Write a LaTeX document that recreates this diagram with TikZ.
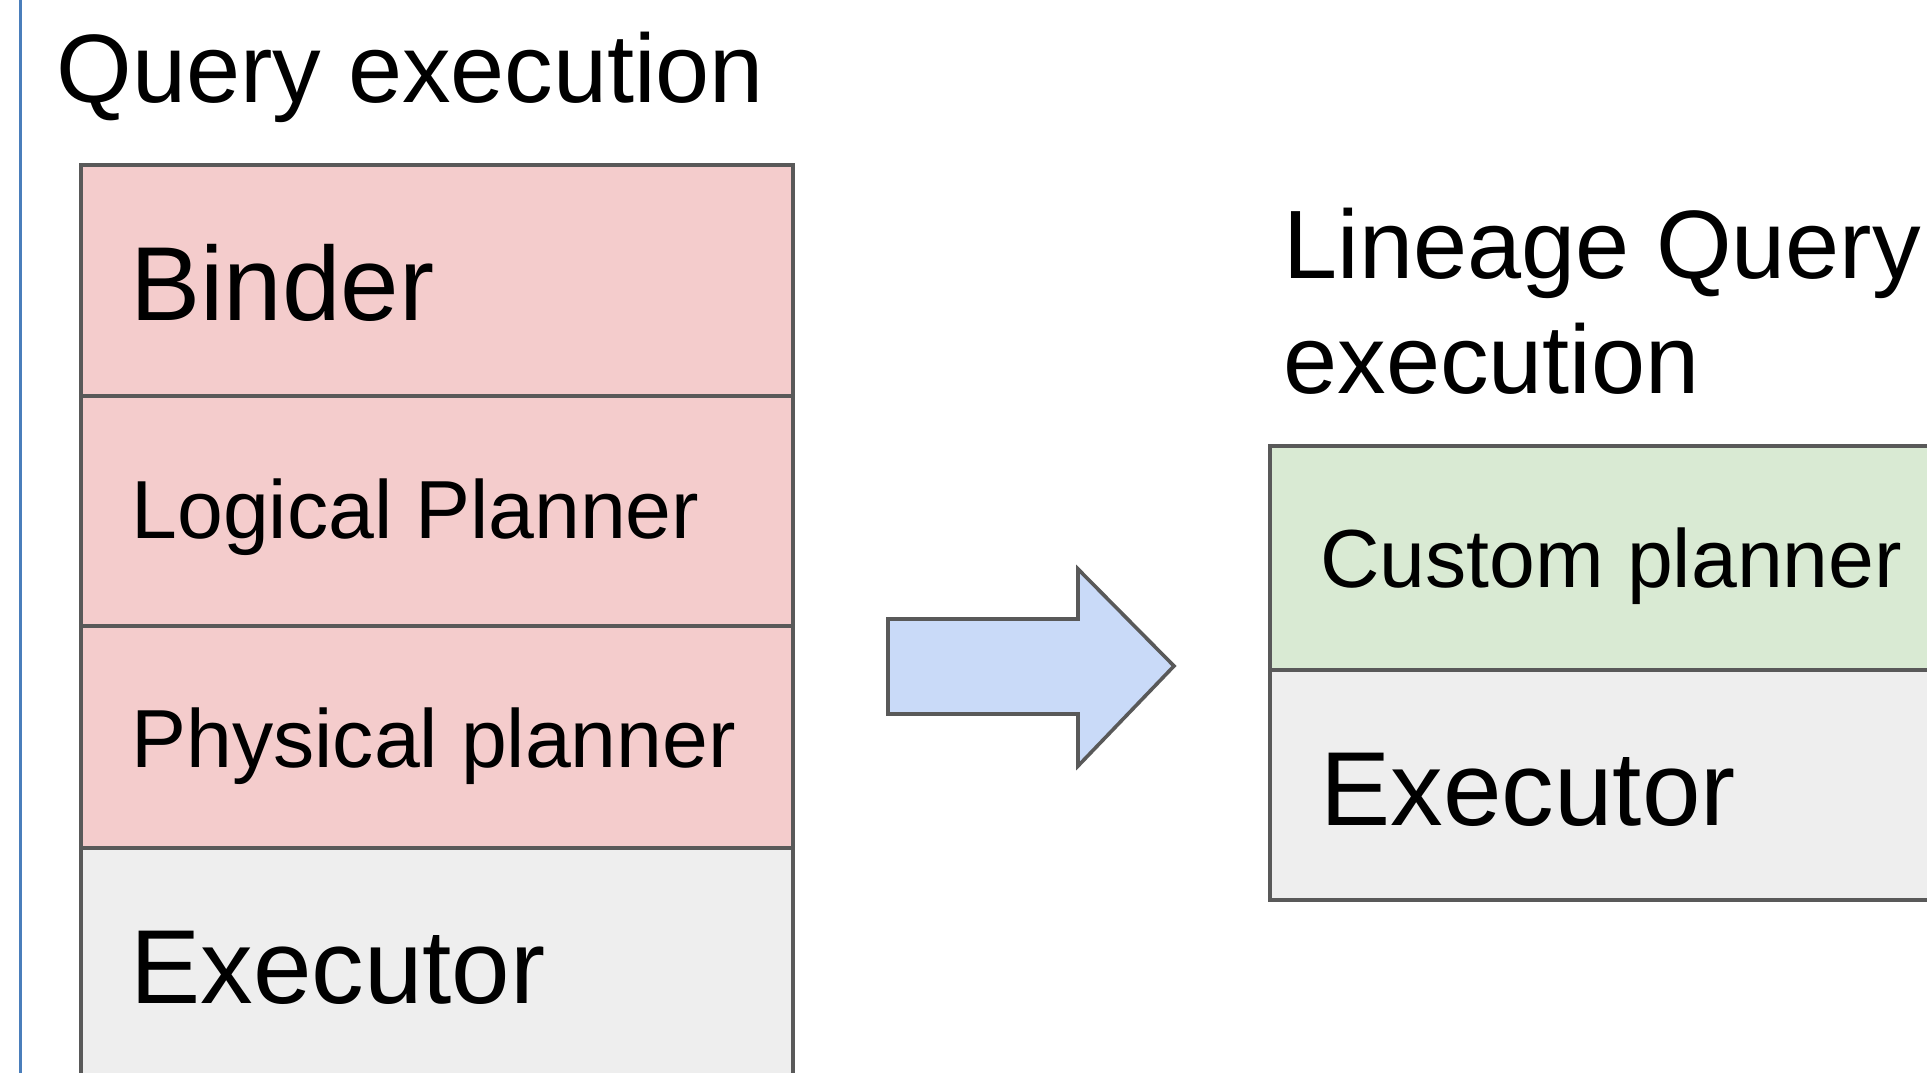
\documentclass[tikz,border=0pt]{standalone}
\usepackage{fontspec}
\setmainfont{Liberation Sans}
\definecolor{pinkfill}{HTML}{F4CCCC}
\definecolor{greenfill}{HTML}{D9EAD3}
\definecolor{greyfill}{HTML}{EEEEEE}
\definecolor{arrowfill}{HTML}{C9DAF8}
\definecolor{edge}{HTML}{595959}
\definecolor{sideline}{HTML}{4A7EBB}
\tikzset{
  layer/.style={draw=edge, line width=1.8pt},
  title/.style={anchor=base west, inner sep=0pt, font=\fontsize{48.6}{57.5}\selectfont},
  bigtxt/.style={anchor=base west, inner sep=0pt, font=\fontsize{52.6}{60}\selectfont},
  midtxt/.style={anchor=base west, inner sep=0pt, font=\fontsize{41.2}{48}\selectfont},
}
\begin{document}
\begin{tikzpicture}[x=0.5pt,y=-0.5pt]
\useasboundingbox (0,0) rectangle (1927,1072);
\clip (0,0) rectangle (1927,1072);
% side line
\draw[sideline, line width=1.5pt] (20,-10) -- (20,1090);
% left stack
\draw[layer, fill=pinkfill] (81,165) rectangle (793,396);
\draw[layer, fill=pinkfill] (81,396) rectangle (793,626);
\draw[layer, fill=pinkfill] (81,626) rectangle (793,848);
\draw[layer, fill=greyfill] (81,848) rectangle (793,1110);
\node[title] (qe) at (56,102) {Query execution};
\node[bigtxt] (binder) at (130,320) {Binder};
\node[midtxt] (logical) at (131,538) {Logical Planner};
\node[midtxt] (physical) at (131,767) {Physical planner};
\node[bigtxt] (exec1) at (130,1003) {Executor};
% arrow
\draw[layer, fill=arrowfill, line join=miter]
  (888,619) -- (1078,619) -- (1078,569) -- (1174,666) -- (1078,766) -- (1078,714) -- (888,714) -- cycle;
% right stack
\draw[layer, fill=greenfill] (1270,446) rectangle (1960,670);
\draw[layer, fill=greyfill] (1270,670) rectangle (1960,900);
\node[title, anchor=north west, align=left] (lqe) at (1283,208) {Lineage Query\\execution};
\node[midtxt] (custom) at (1320,587) {Custom planner};
\node[bigtxt] (exec2) at (1320,825) {Executor};
\end{tikzpicture}
\end{document}
